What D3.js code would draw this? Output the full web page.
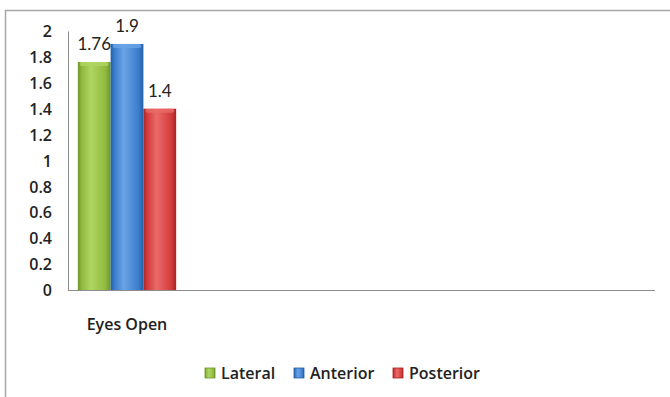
<!DOCTYPE html>
<html>
<head>
<meta charset="utf-8">
<script src="https://cdn.jsdelivr.net/npm/d3@7"></script>
<style>
  body { margin: 0; background: #fff; }
  svg { display: block; font-family: Lato, "Open Sans", sans-serif; }
</style>
</head>
<body>
<svg id="chart" width="670" height="397"></svg>
<script>
// chart data
var categories = ["Eyes Open"];
var seriesNames = ["Lateral", "Anterior", "Posterior"];
var seriesValues = [[1.76], [1.9], [1.4]];
var valueLabels = [["1.76"], ["1.9"], ["1.4"]];
var yTicks = [0, 0.2, 0.4, 0.6, 0.8, 1, 1.2, 1.4, 1.6, 1.8, 2];
var colors = ["#8fba3c", "#3b7dcc", "#d33b3b"];
var darkColors = ["#6e9427", "#255fa8", "#a82424"];
var lightColors = ["#b0d663", "#6aa3e6", "#ea6a6a"];

var svg = d3.select("#chart");

// outer frame (top + left edge only visible)
svg.append("line").attr("x1", 5).attr("x2", 670).attr("y1", 10.5).attr("y2", 10.5)
    .attr("stroke", "#a6a6a6").attr("stroke-width", 1.5);
svg.append("line").attr("x1", 5.5).attr("x2", 5.5).attr("y1", 10).attr("y2", 397)
    .attr("stroke", "#a6a6a6").attr("stroke-width", 1.5);

var y = d3.scaleLinear().domain([0, 2]).range([290, 31]);
var x0 = d3.scaleBand().domain(categories).range([68, 186]).paddingInner(0).paddingOuter(0.1);
var x1 = d3.scaleBand().domain(seriesNames).range([0, x0.bandwidth()]).padding(0);

// gradients for the bevelled bars
var defs = svg.append("defs");
seriesNames.forEach(function(s, i) {
    var g = defs.append("linearGradient").attr("id", "grad" + i)
        .attr("x1", "0%").attr("x2", "100%").attr("y1", "0%").attr("y2", "0%");
    g.append("stop").attr("offset", "0%").attr("stop-color", darkColors[i]);
    g.append("stop").attr("offset", "12%").attr("stop-color", colors[i]);
    g.append("stop").attr("offset", "40%").attr("stop-color", lightColors[i]);
    g.append("stop").attr("offset", "85%").attr("stop-color", colors[i]);
    g.append("stop").attr("offset", "100%").attr("stop-color", darkColors[i]);
});

// y axis
var yAxis = d3.axisLeft(y).tickValues(yTicks).tickSize(0).tickPadding(16)
    .tickFormat(function(d) { return d3.format("")(d); });
var ya = svg.append("g").attr("transform", "translate(68,0)").call(yAxis);
ya.select(".domain").attr("stroke", "#8c8c8c");
ya.selectAll("text").attr("font-size", 16).attr("font-weight", 600)
    .attr("font-family", "'Open Sans', sans-serif")
    .attr("fill", "#222").attr("dy", "0.35em");

// baseline across the plot
svg.append("line").attr("x1", 68).attr("x2", 655).attr("y1", y(0) + 0.5).attr("y2", y(0) + 0.5)
    .attr("stroke", "#8c8c8c").attr("stroke-width", 1.2);

// bars
var groups = svg.selectAll("g.cat").data(categories).enter().append("g")
    .attr("class", "cat")
    .attr("transform", function(d) { return "translate(" + x0(d) + ",0)"; });

seriesNames.forEach(function(s, i) {
    groups.append("rect")
        .attr("x", x1(s))
        .attr("y", function(d, j) { return y(seriesValues[i][j]); })
        .attr("width", x1.bandwidth())
        .attr("height", function(d, j) { return y(0) - y(seriesValues[i][j]); })
        .attr("fill", "url(#grad" + i + ")");
    // top highlight cap
    groups.append("rect")
        .attr("x", x1(s) + 2)
        .attr("y", function(d, j) { return y(seriesValues[i][j]); })
        .attr("width", x1.bandwidth() - 4)
        .attr("height", 4)
        .attr("rx", 2)
        .attr("fill", lightColors[i]).attr("opacity", 0.8);
    groups.append("text")
        .attr("x", x1(s) + x1.bandwidth() / 2)
        .attr("y", function(d, j) { return y(seriesValues[i][j]) - 12; })
        .attr("text-anchor", "middle")
        .attr("font-size", 17)
        .attr("fill", "#222")
        .text(function(d, j) { return valueLabels[i][j]; });
});

// category labels
groups.append("text")
    .attr("x", x0.bandwidth() / 2)
    .attr("y", 330)
    .attr("text-anchor", "middle")
    .attr("font-size", 16)
    .attr("font-weight", 600)
    .attr("font-family", "'Open Sans', sans-serif")
    .attr("fill", "#222")
    .text(function(d) { return d; });

// legend
var legendX = [205, 294, 393];
var legend = svg.selectAll("g.leg").data(seriesNames).enter().append("g")
    .attr("class", "leg")
    .attr("transform", function(d, i) { return "translate(" + legendX[i] + ",368)"; });
legend.append("rect").attr("width", 10).attr("height", 10)
    .attr("fill", function(d, i) { return "url(#grad" + i + ")"; })
    .attr("stroke", function(d, i) { return darkColors[i]; }).attr("stroke-width", 0.8);
legend.append("text").attr("x", 16).attr("y", 11)
    .attr("font-size", 16).attr("font-weight", 600)
    .attr("font-family", "'Open Sans', sans-serif")
    .attr("fill", "#222")
    .text(function(d) { return d; });
</script>
</body>
</html>
